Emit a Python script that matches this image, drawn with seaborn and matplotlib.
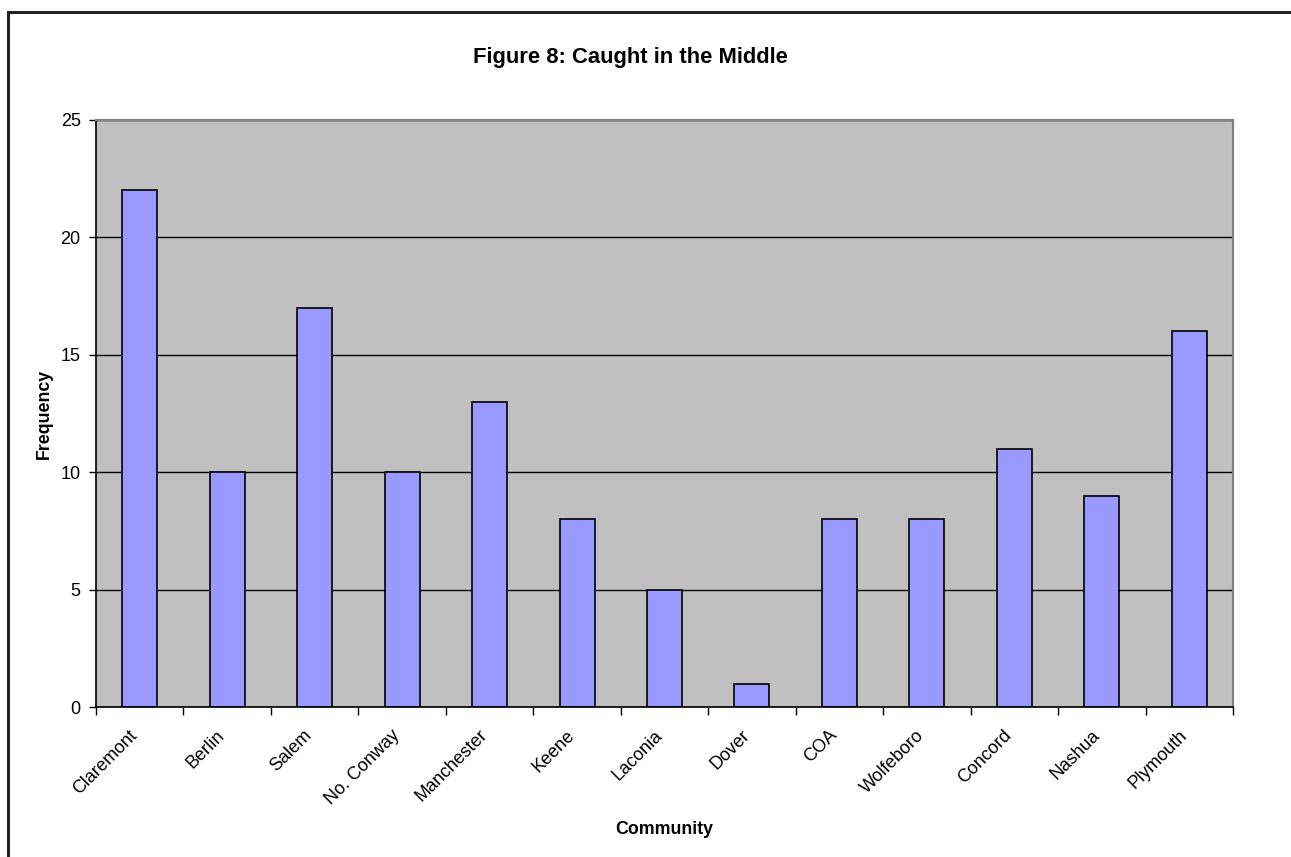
import matplotlib
matplotlib.use("Agg")
import matplotlib.pyplot as plt
import matplotlib.transforms as mtransforms
import seaborn as sns
import pandas as pd
import numpy as np
from matplotlib.patches import Rectangle

communities = ["Claremont", "Berlin", "Salem", "No. Conway", "Manchester", "Keene",
               "Laconia", "Dover", "COA", "Wolfeboro", "Concord", "Nashua", "Plymouth"]
frequency = [22, 10, 17, 10, 13, 8, 5, 1, 8, 8, 11, 9, 16]
y_ticks = [0, 5, 10, 15, 20, 25]

df = pd.DataFrame({"Community": communities, "Frequency": frequency})

sns.set_style("white")
plt.rcParams["font.family"] = ["Liberation Sans", "DejaVu Sans"]
plt.rcParams.update({"text.color": "black", "axes.labelcolor": "black",
                     "xtick.color": "black", "ytick.color": "black"})

fig = plt.figure(figsize=(12.91, 8.57), dpi=100)
ax = fig.add_axes([96 / 1291, 1 - 707 / 857, (1233 - 96) / 1291, (707 - 120) / 857])

sns.barplot(data=df, x="Community", y="Frequency", color="#9999FF",
            edgecolor="black", linewidth=1.2, width=0.4, saturation=1, ax=ax)

ax.set_facecolor("#C0C0C0")
ax.set_xlim(-0.5, len(communities) - 0.5)
ax.set_ylim(0, 25)
ax.set_yticks(y_ticks)
ax.yaxis.grid(True, color="black", linewidth=1)
ax.set_axisbelow(True)

# category boundary ticks on the x axis
ax.set_xticks(np.arange(-0.5, len(communities) + 0.5, 1.0), minor=True)
ax.tick_params(axis="x", which="minor", bottom=True, length=6, width=1, color="black", direction="out")
ax.tick_params(axis="x", which="major", bottom=False, length=0, pad=7)
ax.tick_params(axis="y", left=True, length=5, width=1, color="black", direction="out",
               labelsize=13, pad=6)
ax.set_xticks(range(len(communities)))
ax.set_xticklabels(communities, rotation=45, ha="right", rotation_mode="anchor", fontsize=13)

# shift rotated category labels down-left so they hang below each bar
shift = mtransforms.ScaledTranslation(-11 / 100, -10 / 100, fig.dpi_scale_trans)
for lbl in ax.get_xticklabels():
    lbl.set_transform(lbl.get_transform() + shift)

for side in ("left", "bottom"):
    ax.spines[side].set_color("black")
    ax.spines[side].set_linewidth(1.2)
for side in ("top", "right"):
    ax.spines[side].set_color("#808080")
    ax.spines[side].set_linewidth(1.5)

ax.set_xlabel("Community", fontsize=12.8, fontweight="bold")
ax.xaxis.set_label_coords((664 - 96) / (1233 - 96), -(821 - 707) / (707 - 120))
ax.set_ylabel("Frequency", fontsize=12.8, fontweight="bold")
ax.yaxis.set_label_coords(-(96 - 53) / (1233 - 96), 0.5)

fig.text(630 / 1291, 1 - 57 / 857, "Figure 8: Caught in the Middle", ha="center", va="center",
         fontsize=15.8, fontweight="bold")

# outer frame around the chart area
fig.patches.append(Rectangle((7.5 / 1291, -0.1), 1.2, 1 - 11.5 / 857 + 0.1,
                             transform=fig.transFigure, fill=False,
                             edgecolor="#222222", linewidth=2.2))

fig.savefig("out.png", dpi=100)
